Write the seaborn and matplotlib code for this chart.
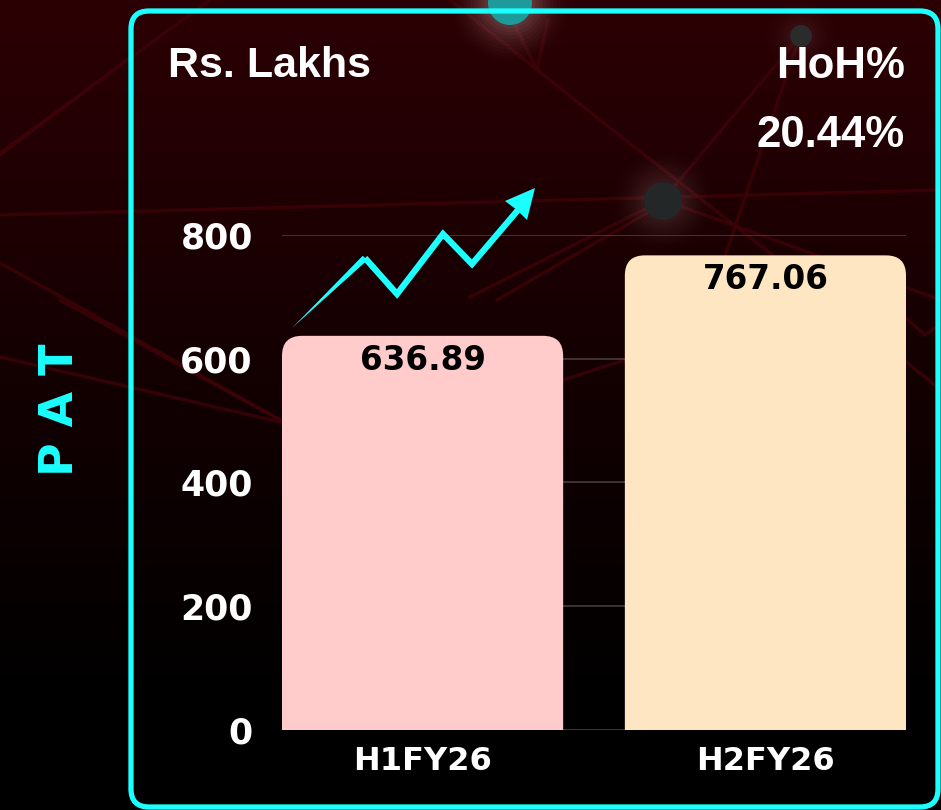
import numpy as np
import matplotlib
matplotlib.use("Agg")
import matplotlib.pyplot as plt
import seaborn as sns
from matplotlib.patches import FancyBboxPatch, Circle, Polygon

# ---------------- data ----------------
categories = ["H1FY26", "H2FY26"]
pat_values = [636.89, 767.06]
value_labels = ["636.89", "767.06"]
y_ticks = [0, 200, 400, 600, 800]
unit_label = "Rs. Lakhs"
hoh_label = "HoH%"
hoh_value = "20.44%"
metric_label = "P A T"
bar_colors = ["#FFCBCB", "#FFE6C3"]

W, H = 941, 810
CYAN = "#1BFFFF"

sns.set_theme(style="dark")
plt.rcParams["font.family"] = ["DejaVu Sans"]

fig = plt.figure(figsize=(W / 100, H / 100), dpi=100)
fig.patch.set_facecolor("black")

# ---------------- background (pixel coordinates) ----------------
bg = fig.add_axes([0, 0, 1, 1], zorder=-10)
bg.set_xlim(0, W)
bg.set_ylim(H, 0)
bg.axis("off")
yy = np.linspace(0, H, 400)
f = np.clip(1 - yy / 720.0, 0, 1) ** 1.1
top = np.array([0x2c, 0x00, 0x04]) / 255.0
img = (f[:, None, None] * top[None, None, :]) * np.ones((1, 2, 1))
bg.imshow(img, extent=(0, W, H, 0), aspect="auto", zorder=0)

net_lines = [
    [(0, 153), (210, 0)],
    [(0, 215), (941, 190)],
    [(0, 263), (67, 300), (280, 420)],
    [(60, 300), (280, 420)],
    [(0, 357), (280, 422)],
    [(563, 380), (625, 360)],
    [(450, 0), (600, 120), (770, 253), (941, 390)],
    [(663, 200), (800, 36)],
    [(800, 36), (700, 330)],
    [(470, 297), (663, 200)],
    [(497, 300), (647, 213)],
    [(510, 15), (537, 70), (548, 20)],
    [(906, 318), (925, 335), (941, 324)],
    [(128, 59), (0, 155)],
    [(663, 200), (941, 300)],
]
for seg in net_lines:
    xs, ys = zip(*seg)
    bg.plot(xs, ys, color="#3e0308", lw=2.4, alpha=0.8, zorder=1,
            solid_capstyle="round")

# glowing nodes
for (cx, cy, r, col, glow) in [(510, 3, 22, "#1f9a9a", 0.05),
                               (663, 201, 19, "#232727", 0.025),
                               (801, 36, 11, "#2b2b2b", 0.015)]:
    for k in range(12, 0, -1):
        bg.add_patch(Circle((cx, cy), r + k * 3.5, color="#ffd0d0",
                            alpha=glow * (1 - k / 13), lw=0, zorder=2))
    bg.add_patch(Circle((cx, cy), r, color=col, lw=0, zorder=3))

# ---------------- main bar chart ----------------
ax = fig.add_axes([282 / W, (H - 729.5) / H, 624 / W, 494.5 / H])
ax.set_facecolor("none")
sns.barplot(x=categories, y=pat_values, hue=categories, palette=bar_colors,
            width=0.82, saturation=1, legend=False, ax=ax, zorder=2)
ax.set_xlim(-0.41, 1.41)
ax.set_ylim(0, 800)
ax.set_yticks(y_ticks)
ax.set_xlabel("")
ax.set_ylabel("")
for s in ax.spines.values():
    s.set_visible(False)
ax.grid(axis="y", color="#4e4040", lw=1.1)
ax.grid(axis="x", visible=False)
ax.set_axisbelow(True)
ax.tick_params(axis="y", length=0, pad=21, labelsize=25, labelcolor="white")
ax.tick_params(axis="x", length=0, pad=12, labelsize=23, labelcolor="white")
for t in ax.get_xticklabels() + ax.get_yticklabels():
    t.set_fontweight("bold")

# rounded tops for the bars
fig.canvas.draw()
o = ax.transData.transform((0, 0))
px_x = ax.transData.transform((1, 0))[0] - o[0]
px_y = ax.transData.transform((0, 1))[1] - o[1]
rad = 20.0
rx, ry = rad / px_x, rad / px_y
for p in list(ax.patches):
    x0, y0 = p.get_x(), p.get_y()
    w, h = p.get_width(), p.get_height()
    fc = p.get_facecolor()
    p.remove()
    ax.add_patch(FancyBboxPatch((x0, y0 - 2 * ry), w, h + 2 * ry,
                                boxstyle=f"round,pad=0,rounding_size={rx}",
                                mutation_aspect=ry / rx, fc=fc, ec="none",
                                zorder=2))

for i, (v, lab) in enumerate(zip(pat_values, value_labels)):
    ax.annotate(lab, (i, v), xytext=(0, -24.5), textcoords="offset points",
                ha="center", va="baseline", fontsize=23.5, fontweight="bold",
                color="black", zorder=5)

# ---------------- overlay (pixel coordinates) ----------------
fg = fig.add_axes([0, 0, 1, 1], zorder=10)
fg.set_xlim(0, W)
fg.set_ylim(H, 0)
fg.axis("off")
fg.patch.set_alpha(0)

# panel border
fg.add_patch(FancyBboxPatch((131, 11), 807, 796,
                            boxstyle="round,pad=0,rounding_size=18",
                            fc="none", ec=CYAN, lw=3.8, zorder=5))

# growth arrow
p0 = np.array([292, 328.0])
p1 = np.array([365, 258.0])
d = (p1 - p0) / np.linalg.norm(p1 - p0)
n = np.array([-d[1], d[0]])
fg.add_patch(Polygon([p0, p1 + n * 3.2, p1 - n * 3.2], closed=True,
                     fc=CYAN, ec="none", zorder=6))
zig = np.array([(365, 258), (397, 294), (443, 234), (472, 264), (518, 210)])
fg.plot(zig[:, 0], zig[:, 1], color=CYAN, lw=4.5, solid_joinstyle="miter",
        solid_capstyle="butt", zorder=6)
fg.add_patch(Polygon([(535, 188), (505, 201), (517, 210), (527, 220)],
                     closed=True, fc=CYAN, ec="none", zorder=6))

# texts
fg.text(168, 77, unit_label, ha="left", va="baseline", color="white",
        fontsize=31, fontweight="bold", family="Liberation Sans")
fg.text(905, 78, hoh_label, ha="right", va="baseline", color="white",
        fontsize=31.5, fontweight="bold", family="Liberation Sans")
fg.text(905, 147, hoh_value, ha="right", va="baseline", color="white",
        fontsize=31.5, fontweight="bold", family="Liberation Sans")
fg.text(61, 410, metric_label, ha="center", va="center", rotation=90,
        color=CYAN, fontsize=33, fontweight="bold")

fig.savefig("out.png", dpi=100, facecolor=fig.get_facecolor())
